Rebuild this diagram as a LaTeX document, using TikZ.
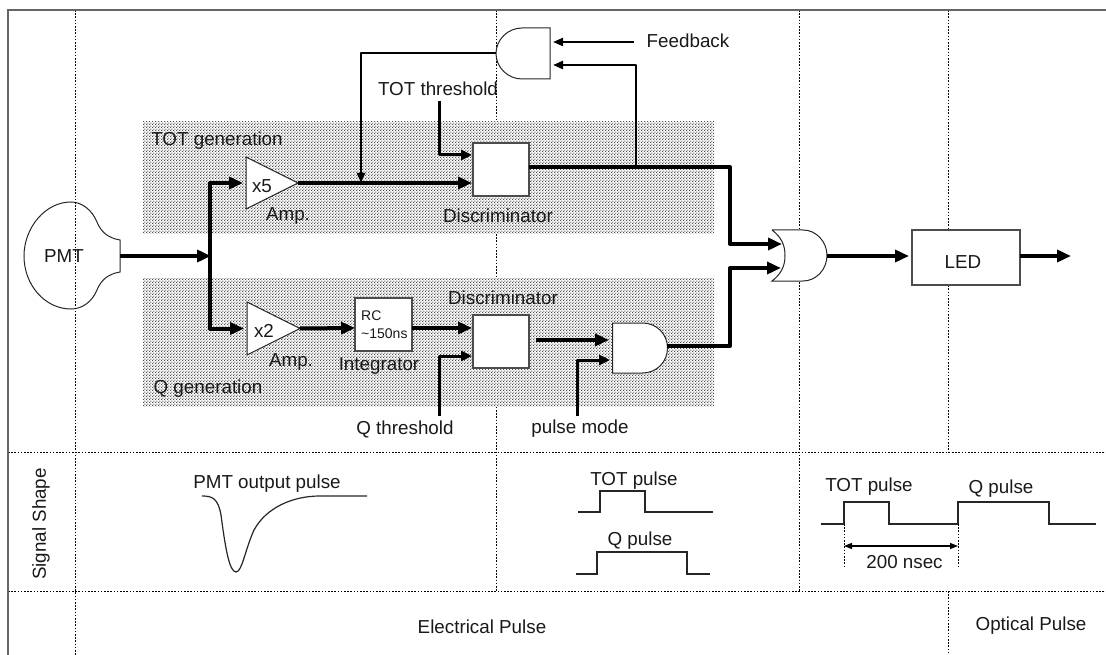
\documentclass[tikz,border=0pt]{standalone}
\usepackage{fontspec}
\setmainfont{Liberation Sans}
\usetikzlibrary{arrows.meta,patterns}

\pgfdeclarepatternformonly{regiondots}{\pgfqpoint{0pt}{0pt}}{\pgfqpoint{3.2pt}{3.2pt}}{\pgfqpoint{3.2pt}{3.2pt}}{
  \pgfpathrectangle{\pgfqpoint{0.2pt}{0.2pt}}{\pgfqpoint{1.2pt}{1.2pt}}
  \pgfpathrectangle{\pgfqpoint{1.8pt}{1.8pt}}{\pgfqpoint{1.2pt}{1.2pt}}
  \pgfusepath{fill}}

\tikzset{
  txt/.style={inner sep=0pt,font=\fontsize{18.8}{21}\selectfont,text=black!90},
  smalltxt/.style={inner sep=0pt,font=\fontsize{14}{16}\selectfont,text=black!90},
  grid/.style={line width=1pt,dash pattern=on 1.6pt off 1.6pt},
  frameline/.style={line width=1.6pt,black!60},
  region/.style={rectangle,inner sep=0pt,outer sep=0pt,fill=white,postaction={pattern=regiondots,pattern color=black!70}},
  block/.style={rectangle,draw=black!70,line width=1.2pt,fill=white,inner sep=0pt,outer sep=0pt},
  gatebox/.style={rectangle,inner sep=0pt,outer sep=0pt},
  gateline/.style={draw=black!85,line width=1pt,fill=white},
  bigwire/.style={line width=4pt,line join=round,-{Triangle[length=14pt,width=12pt]}},
  midwire/.style={line width=3pt,line join=round,-{Triangle[length=11pt,width=10pt]}},
  thinwire/.style={line width=2pt,line join=round,-{Triangle[length=10pt,width=8pt]}},
  wave/.style={line width=1.2pt,black!85},
}

\begin{document}
\begin{tikzpicture}[x=1pt,y=-1pt]
\useasboundingbox (0,0) rectangle (1106,655);

\pgfmathsetmacro{\topy}{10}
\pgfmathsetmacro{\shapey}{452.5}
\pgfmathsetmacro{\kindy}{591}

% table lines
\draw[grid] (75,\topy) -- (75,655);
\draw[grid] (496,\topy) -- (496,\kindy);
\draw[grid] (799,\topy) -- (799,\kindy);
\draw[grid] (948,\topy) -- (948,\shapey);
\draw[grid] (948,\kindy) -- (948,655);
\draw[grid] (8,\shapey) -- (1106,\shapey);
\draw[grid] (8,\kindy) -- (1106,\kindy);
\draw[frameline] (1106,\topy) -- (8,\topy) -- (8,655);

\node[region,minimum width=571pt,minimum height=112pt] (totregion) at (428.5,178) {};
\node[region,minimum width=571pt,minimum height=128pt] (qregion) at (428.5,342) {};

% PMT
\draw[gateline,fill=none] (120,240) .. controls (108,238) and (101,232) .. (97,222)
  .. controls (92,210) and (82,202) .. (71,202)
  .. controls (45,202) and (24,228) .. (24,256)
  .. controls (24,285) and (45,309) .. (71,309)
  .. controls (82,309) and (92,302) .. (97,290)
  .. controls (101,280) and (108,274) .. (120,272) -- cycle;
\node[txt] (pmt) at (64,256) {PMT};
\coordinate (pmtout) at (120,256);
\coordinate (split) at (210,256);

% amplifiers
\node[gatebox,minimum width=52pt,minimum height=52pt] (ampfive) at (272,183) {};
\draw[gateline] (ampfive.north west) -- (ampfive.east) -- (ampfive.south west) -- cycle;
\node[txt] (xfive) at (262,186) {x5};
\node[txt] (ampfivetxt) at (288,216) {Amp.};

\node[gatebox,minimum width=53pt,minimum height=53pt] (amptwo) at (273.5,328.5) {};
\draw[gateline] (amptwo.north west) -- (amptwo.east) -- (amptwo.south west) -- cycle;
\node[txt] (xtwo) at (264,331) {x2};
\node[txt] (amptwotxt) at (291,362) {Amp.};

% boxes
\node[block,minimum width=57pt,minimum height=53pt] (rc) at (383.5,324.5) {};
\node[smalltxt,anchor=west] (rctxt) at (361,316) {RC};
\node[smalltxt,anchor=west] (rcval) at (361,334) {\textasciitilde150ns};
\node[txt] (rcname) at (379,366) {Integrator};

\node[block,minimum width=56pt,minimum height=53pt] (disctot) at (501,169.5) {};
\node[txt] (disctottxt) at (498,216) {Discriminator};
\node[block,minimum width=56pt,minimum height=53pt] (discq) at (501,341.5) {};
\node[txt] (discqtxt) at (503,298) {Discriminator};

\node[block,minimum width=108pt,minimum height=55pt] (led) at (966,257.5) {};
\node[txt] (ledtxt) at (963,262) {LED};

% gates
\node[gatebox,minimum width=55pt,minimum height=50pt] (andq) at (640,348) {};
\draw[gateline] (andq.north west) -- ([xshift=30pt]andq.north west)
  .. controls +(14,0) and +(0,-14) .. (andq.east)
  .. controls +(0,14) and +(14,0) .. ([xshift=30pt]andq.south west)
  -- (andq.south west) -- cycle;

\node[gatebox,minimum width=54pt,minimum height=51pt] (andfb) at (523,53.5) {};
\draw[gateline] (andfb.north east) -- ([xshift=-28pt]andfb.north east)
  .. controls +(-14,0) and +(0,-14) .. (andfb.west)
  .. controls +(0,14) and +(-14,0) .. ([xshift=-28pt]andfb.south east)
  -- (andfb.south east) -- cycle;

\node[gatebox,minimum width=55pt,minimum height=51pt] (orgate) at (799.5,255.5) {};
\draw[gateline] (orgate.north west) -- ([xshift=31pt]orgate.north west)
  .. controls +(13,0) and +(0,-14) .. (orgate.east)
  .. controls +(0,14) and +(13,0) .. ([xshift=31pt]orgate.south west)
  -- (orgate.south west)
  .. controls +(9,-7) and +(0,11) .. ([xshift=13pt]orgate.west)
  .. controls +(0,-11) and +(9,7) .. (orgate.north west);

% labels with a free wire end
\node[txt] (totgen) at (217,141) {TOT generation};
\node[txt] (qgen) at (208,389) {Q generation};
\node[txt] (totthr) at (438,89) {TOT threshold};
\node[txt] (qthr) at (405,429) {Q threshold};
\node[txt] (pulsemode) at (580,429) {pulse mode};
\node[txt] (feedback) at (688,41) {Feedback};

\coordinate (totthrfoot) at (439,101);
\coordinate (totthrin) at (473,155);
\coordinate (qthrfoot) at (439,416);
\coordinate (qthrin) at (473,356);
\coordinate (modefoot) at (577,416);
\coordinate (modein) at (613,360);
\coordinate (fbstart) at (634,42);
\coordinate (fbin) at (550,42);
\coordinate (loopin) at (550,65);
\coordinate (disctotout) at (529,167);
\coordinate (tap) at (636,167);
\coordinate (ortop) at (785,244);
\coordinate (orbot) at (784,268);
\coordinate (andqout) at (667,346);
\coordinate (discqout) at (536,340);
\coordinate (andqin) at (613,340);
\coordinate (rcin) at (355,328);
\coordinate (orout) at (827,256);
\coordinate (ledin) at (912,256);
\coordinate (ledout) at (1020,256);
\coordinate (ledend) at (1071,256);
\coordinate (fbdrop) at (361,183);

% wires
\draw[bigwire,shorten >=-1pt] (pmtout) -- (split);
\draw[bigwire,shorten >=3pt] (split) |- (ampfive.west);
\draw[bigwire,shorten >=3pt] (split) |- (amptwo.west);
\draw[bigwire,shorten >=0pt] (amptwo.east) -- (rcin);
\draw[bigwire,shorten >=1pt] (ampfive.east) -- (ampfive.east -| disctot.west);
\draw[bigwire,shorten >=1pt] (rc.east |- rcin) -- (rcin -| discq.west);
\draw[midwire,shorten >=1pt] (totthrfoot) |- (totthrin);
\draw[midwire,shorten >=1pt] (qthrfoot) |- (qthrin);
\draw[midwire,shorten >=3pt] (modefoot) |- (modein);
\draw[bigwire,shorten >=4pt] (discqout) -- (andqin);
\draw[thinwire,shorten >=3pt] (fbstart) -- (fbin);
\draw[thinwire,line width=2.4pt,shorten >=3pt] (tap) |- (loopin);
\draw[thinwire] (andfb.west) -| (fbdrop);
\draw[bigwire,shorten >=3pt] (disctotout) -| (730,244) -- (ortop);
\draw[bigwire,shorten >=3pt] (andqout) -| (730,268) -- (orbot);
\draw[bigwire,shorten >=3pt] (orout) -- (ledin);
\draw[bigwire] (ledout) -- (ledend);

% signal shapes
\node[txt,rotate=90] (signalshape) at (41,524) {Signal Shape};
\node[txt] (pmtpulse) at (267,484) {PMT output pulse};
\draw[wave] (202,496) .. controls (212,496) and (218,498) .. (221,515)
  .. controls (225,545) and (229,572) .. (236,572)
  .. controls (242,572) and (245,550) .. (254,530)
  .. controls (266,508) and (292,496) .. (320,496) -- (367,496);

\node[txt] (midtot) at (634,481) {TOT pulse};
\draw[wave] (578,512) -- (600,512) -- (600,491) -- (645,491) -- (645,512) -- (713,512);
\node[txt] (midq) at (640,541) {Q pulse};
\draw[wave] (575.5,574) -- (597,574) -- (597,552) -- (687,552) -- (687,574) -- (710,574);

\node[txt] (righttot) at (869,487) {TOT pulse};
\node[txt] (rightq) at (1001,489) {Q pulse};
\draw[wave] (820.5,524) -- (844,524) -- (844,502) -- (889,502) -- (889,524) -- (958,524)
  -- (958,502) -- (1049,502) -- (1049,524) -- (1096,524);
\coordinate (gapa) at (844,546);
\coordinate (gapb) at (958,546);
\draw[grid] (844,524) -- (844,567);
\draw[grid] (958,524) -- (958,567);
\draw[line width=1.2pt,{Triangle[length=8pt,width=6pt]}-{Triangle[length=8pt,width=6pt]}] (gapa) -- (gapb);
\node[txt] (gaptxt) at (904.5,562) {200 nsec};

\node[txt] (elec) at (482,627) {Electrical Pulse};
\node[txt] (optical) at (1031,626) {Optical Pulse};
\end{tikzpicture}
\end{document}
